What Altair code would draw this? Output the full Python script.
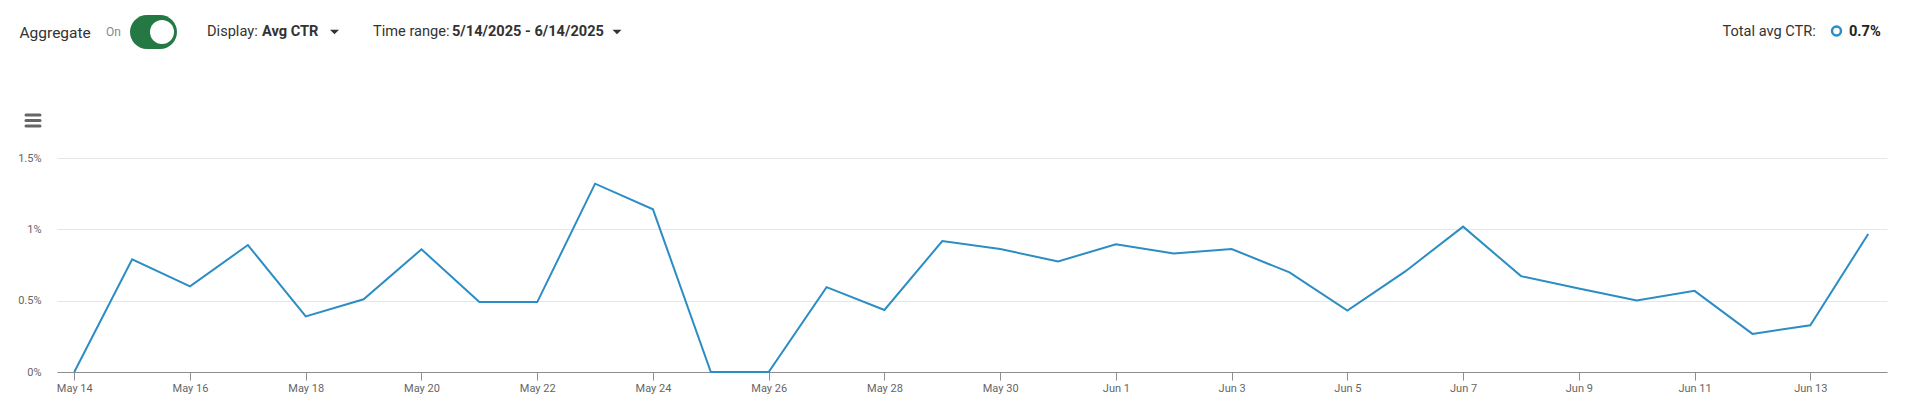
import altair as alt
import pandas as pd

# ---- data ----
dates = ["2025-05-14", "2025-05-15", "2025-05-16", "2025-05-17", "2025-05-18", "2025-05-19",
         "2025-05-20", "2025-05-21", "2025-05-22", "2025-05-23", "2025-05-24", "2025-05-25",
         "2025-05-26", "2025-05-27", "2025-05-28", "2025-05-29", "2025-05-30", "2025-05-31",
         "2025-06-01", "2025-06-02", "2025-06-03", "2025-06-04", "2025-06-05", "2025-06-06",
         "2025-06-07", "2025-06-08", "2025-06-09", "2025-06-10", "2025-06-11", "2025-06-12",
         "2025-06-13", "2025-06-14"]
ctr = [0.0, 0.79, 0.60, 0.89, 0.39, 0.51, 0.86, 0.49, 0.49, 1.32, 1.14, 0.0,
       0.0, 0.595, 0.435, 0.918, 0.862, 0.775, 0.895, 0.831, 0.862, 0.698, 0.431, 0.705,
       1.019, 0.672, 0.585, 0.501, 0.569, 0.267, 0.328, 0.967]
x_tick_dates = ["2025-05-14", "2025-05-16", "2025-05-18", "2025-05-20", "2025-05-22",
                "2025-05-24", "2025-05-26", "2025-05-28", "2025-05-30", "2025-06-01",
                "2025-06-03", "2025-06-05", "2025-06-07", "2025-06-09", "2025-06-11",
                "2025-06-13"]
y_ticks = [0, 0.5, 1, 1.5]
total_avg = "0.7%"
date_range_text = "5/14/2025 - 6/14/2025"

df = pd.DataFrame({"date": dates, "ctr": ctr})
one = pd.DataFrame({"k": [0]})

# ---- layout ----
PAD_L, PAD_T = 49, 150
OX, OY = 8 + PAD_L, 8 + PAD_T
W, H = 1830, 214

LINE = "#2c8dc4"
TXT = "#333333"
FONT = "Roboto"
HS = 14.6  # header font size


def dt(s, h=0, m=0):
    y, mo, d = (int(v) for v in s.split("-"))
    return alt.DateTime(year=y, month=mo, date=d, hours=h, minutes=m, utc=True)


line = alt.Chart(df).mark_line(color=LINE, strokeWidth=2, clip=False).encode(
    x=alt.X(
        "date:T",
        scale=alt.Scale(type="utc", domain=[dt("2025-05-13", 16, 50), dt("2025-06-14", 7, 48)], nice=False),
        axis=alt.Axis(
            title=None, values=[dt(s) for s in x_tick_dates], format="%b %-d",
            grid=False, domainColor="#8e8e8e", tickColor="#8e8e8e", tickSize=8,
            labelPadding=2, labelColor="#666666", labelFontSize=11, labelFont=FONT,
            labelFlush=False, labelOverlap=False,
        ),
    ),
    y=alt.Y(
        "ctr:Q",
        scale=alt.Scale(domain=[0, 1.5], nice=False),
        axis=alt.Axis(
            title=None, values=y_ticks, labelExpr="datum.value + '%'",
            domain=False, ticks=False, labelPadding=16, gridColor="#e6e6e6",
            labelColor="#666666", labelFontSize=11, labelFont=FONT,
        ),
    ),
    tooltip=["date:T", "ctr:Q"],
)


def txt(s, x, y, size=HS, color=TXT, weight="normal"):
    return alt.Chart(one).mark_text(
        text=s, align="left", baseline="middle", fontSize=size, color=color,
        fontWeight=weight, font=FONT,
    ).encode(x=alt.value(x - OX), y=alt.value(y - OY))


def tri(x, y):
    return alt.Chart(one).mark_point(
        shape="M-1,-0.5L1,-0.5L0,0.5Z", filled=True, color=TXT, size=81, opacity=1
    ).encode(x=alt.value(x - OX), y=alt.value(y - OY))


def bar(y):
    return alt.Chart(one).mark_rule(color="#666666", strokeWidth=3, strokeCap="round").encode(
        x=alt.value(26 - OX), x2=alt.value(40 - OX), y=alt.value(y - OY)
    )


toggle = alt.Chart(one).mark_rect(cornerRadius=17, color="#237843").encode(
    x=alt.value(130 - OX), x2=alt.value(177 - OX), y=alt.value(15 - OY), y2=alt.value(49 - OY)
)
knob = alt.Chart(one).mark_point(shape="circle", filled=True, color="white", size=576, opacity=1).encode(
    x=alt.value(162 - OX), y=alt.value(32 - OY)
)
ring = alt.Chart(one).mark_point(shape="circle", filled=False, color=LINE, strokeWidth=2.5, size=80, opacity=1).encode(
    x=alt.value(1836.5 - OX), y=alt.value(31 - OY)
)

layers = [
    line,
    txt("Aggregate", 19.5, 33, size=15.5),
    txt("On", 106, 32, size=12, color="#888888"),
    toggle, knob,
    txt("Display:", 207, 32),
    txt("Avg CTR", 262, 32, weight="bold"),
    tri(334.5, 32),
    txt("Time range:", 373, 32),
    txt(date_range_text, 452, 32, weight="bold"),
    tri(617, 32),
    txt("Total avg CTR:", 1722.5, 32),
    ring,
    txt(total_avg, 1849, 32, weight="bold", color="#222222"),
    bar(115), bar(120.5), bar(126),
]

chart = alt.layer(*layers).properties(
    width=W, height=H,
    autosize=alt.AutoSizeParams(type="none"),
    padding={"left": PAD_L, "top": PAD_T, "right": 8, "bottom": 22},
    background="white",
).configure_view(stroke=None)

chart.save("out.html", embed_options={"renderer": "svg", "actions": False})
